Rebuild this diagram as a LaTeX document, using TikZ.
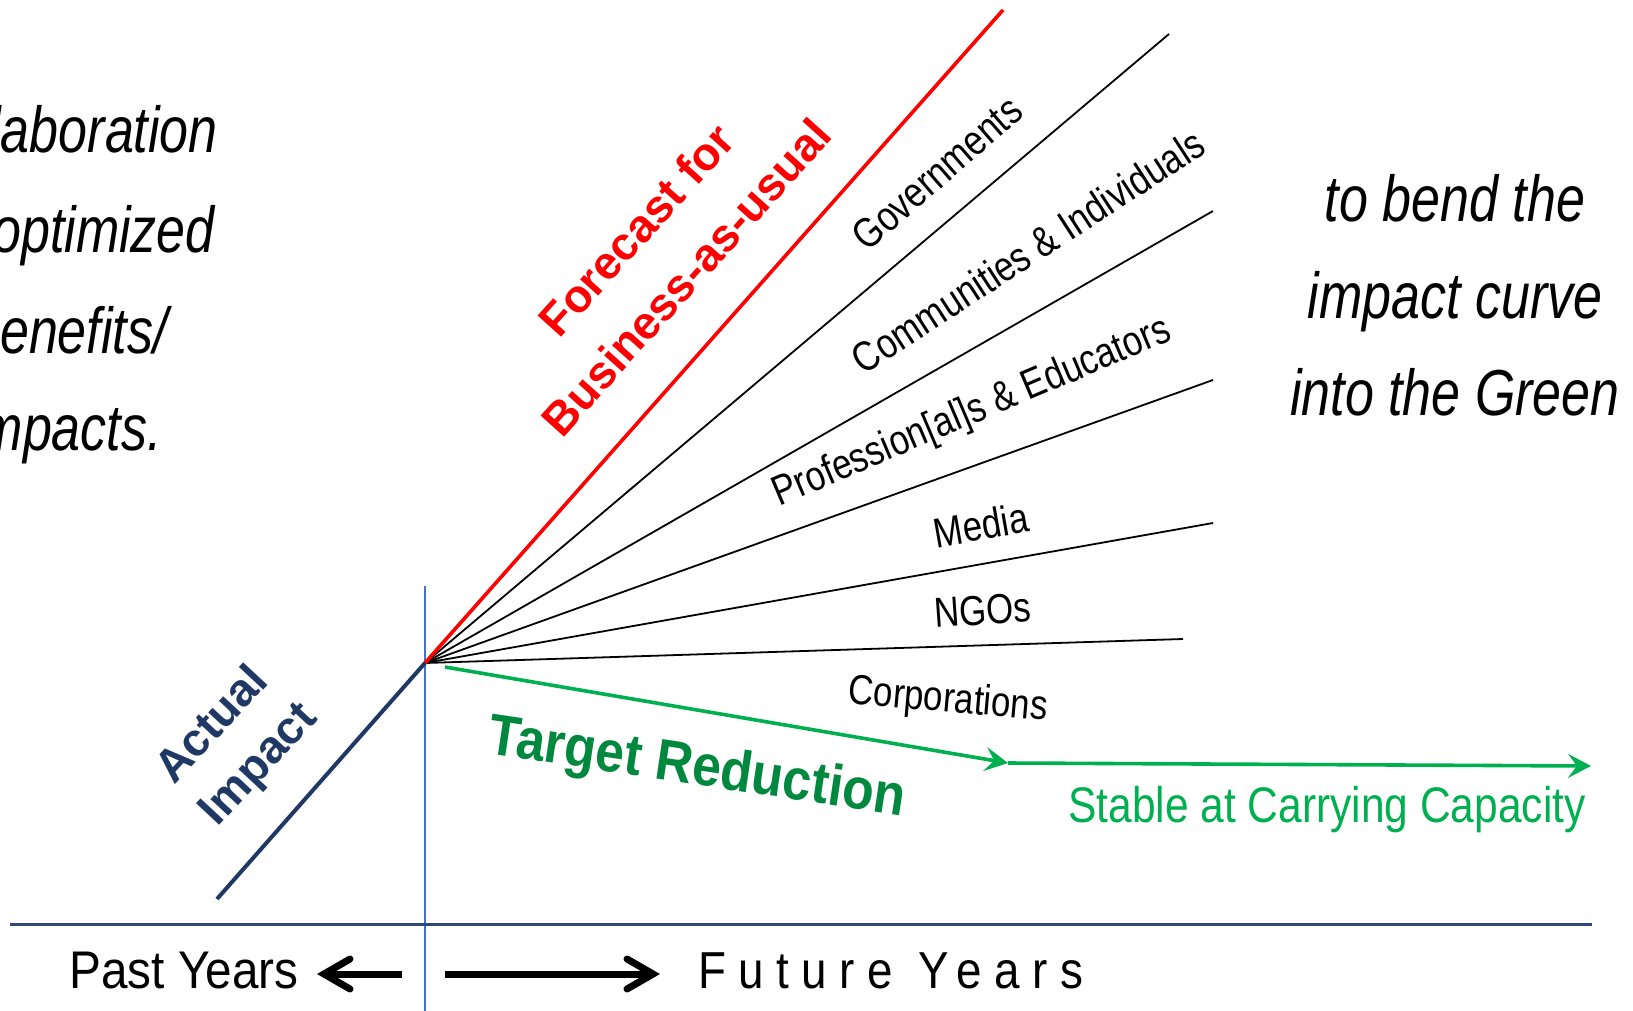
\documentclass[tikz,border=0pt]{standalone}
\usepackage{fontspec}
\setmainfont{Liberation Sans}
\newfontfamily\nA[FakeStretch=0.80]{Liberation Sans}
\newfontfamily\nB[FakeStretch=0.83]{Liberation Sans}
\newfontfamily\nS[FakeStretch=0.85]{Liberation Sans}
\newfontfamily\nC[FakeStretch=0.90]{Liberation Sans}
\newfontfamily\nE[FakeStretch=0.88,LetterSpace=24]{Liberation Sans}
\newfontfamily\nD[FakeStretch=0.89]{Liberation Sans}
\usetikzlibrary{arrows.meta}
\definecolor{navy}{RGB}{31,56,100}
\definecolor{axisnavy}{RGB}{47,72,120}
\definecolor{axisblue}{RGB}{68,114,196}
\definecolor{lgreen}{RGB}{0,176,80}
\definecolor{dgreen}{RGB}{0,136,62}
\definecolor{rred}{RGB}{255,0,0}
\tikzset{
  lab/.style={font=\nB\fontsize{42}{50}\selectfont, inner sep=0pt},
  ital/.style={font=\nA\itshape\fontsize{65}{76}\selectfont, inner sep=0pt},
  redtxt/.style={font=\bfseries\fontsize{46}{55}\selectfont, text=rred, inner sep=0pt, rotate=48},
  navytxt/.style={font=\bfseries\fontsize{46}{55}\selectfont, text=navy, inner sep=0pt, rotate=47},
  fan/.style={line width=1.8pt, black},
  greenline/.style={line width=3.6pt, lgreen},
  timearrow/.style={line width=7pt, -{Straight Barb[length=26pt,width=30pt,line cap=round]}}
}
\begin{document}
\begin{tikzpicture}[x=1pt,y=-1pt]
\useasboundingbox (0,0) rectangle (1633,1011);
\clip (0,0) rectangle (1633,1011);
% coordinates
\coordinate (O) at (425,663);
\coordinate (vtop) at (425,586);
\coordinate (vbot) at (425,1011);
\coordinate (axL) at (10,924);
\coordinate (axR) at (1592,924);
\coordinate (aiS) at (217,899);
\coordinate (redE) at (1003,10);
\coordinate (govE) at (1169,34);
\coordinate (comE) at (1213,211);
\coordinate (proE) at (1213,380);
\coordinate (medE) at (1213,523);
\coordinate (ngoE) at (1183,639);
\coordinate (gS) at (445,667);
\coordinate (gM) at (1008,763);
\coordinate (gE) at (1591,766);
\coordinate (pa1) at (402,974);
\coordinate (pa2) at (317,974);
\coordinate (fa1) at (445,974);
\coordinate (fa2) at (660,974);
% axes
\draw[axisblue, line width=1.5pt] (vtop) -- (vbot);
\draw[axisnavy, line width=3pt] (axL) -- (axR);
% fan lines
\draw[fan] (O) -- (govE);
\draw[fan] (O) -- (comE);
\draw[fan] (O) -- (proE);
\draw[fan] (O) -- (medE);
\draw[fan] (O) -- (ngoE);
\draw[rred, line width=3.6pt] (O) -- (redE);
\draw[navy, line width=4pt] (aiS) -- (O);
% green target
\draw[greenline, -{Stealth[length=23pt,width=24pt,inset=9pt]}] (gS) -- (gM);
\draw[greenline, -{Stealth[length=23pt,width=24pt,inset=9pt]}] (gM) -- (gE);
% time arrows
\draw[timearrow] (pa1) -- (pa2);
\draw[timearrow] (fa1) -- (fa2);
% left italic text
\node[ital, anchor=base east] (l1) at (218,153) {laboration};
\node[ital, anchor=base east] (l2) at (215,252) {optimized};
\node[ital, anchor=base east] (l3) at (168,353) {enefits/};
\node[ital, anchor=base east] (l4) at (162,450) {mpacts.};
% right italic text
\node[ital, anchor=base] (r1) at (1455,222) {to bend the};
\node[ital, anchor=base] (r2) at (1455,318) {impact curve};
\node[ital, anchor=base] (r3) at (1455,415) {into the Green};
% red labels
\node[redtxt] (fc1) at (636,230) {Forecast for};
\node[redtxt] (fc2) at (686,277) {Business-as-usual};
% navy labels
\node[navytxt] (ai1) at (210,723) {Actual};
\node[navytxt] (ai2) at (260,766) {Impact};
% sector labels
\node[lab, rotate=41] (tgov) at (937,173) {Governments};
\node[lab, rotate=33] (tcom) at (1028,251) {Communities \& Individuals};
\node[lab, rotate=23] (tpro) at (972,413) {Profession[al]s \& Educators};
\node[lab, rotate=10] (tmed) at (981,525) {Media};
\node[lab, rotate=4] (tngo) at (983,610) {NGOs};
\node[lab, rotate=-5] (tcor) at (948,701) {Corporations};
% green labels
\node[font=\nD\bfseries\fontsize{58}{66}\selectfont, text=dgreen, inner sep=0pt, rotate=-8.5] (ttr) at (697,770) {Target Reduction};
\node[font=\nS\fontsize{50}{58}\selectfont, text=lgreen, inner sep=0pt] (tst) at (1327,810) {Stable at Carrying Capacity};
% bottom labels
\node[font=\nC\fontsize{53}{60}\selectfont, inner sep=0pt, anchor=base] (past) at (184,988) {Past Years};
\node[font=\nE\fontsize{52}{60}\selectfont, inner sep=0pt, anchor=base west] (fut) at (698,988) {Future Years};
\end{tikzpicture}
\end{document}
